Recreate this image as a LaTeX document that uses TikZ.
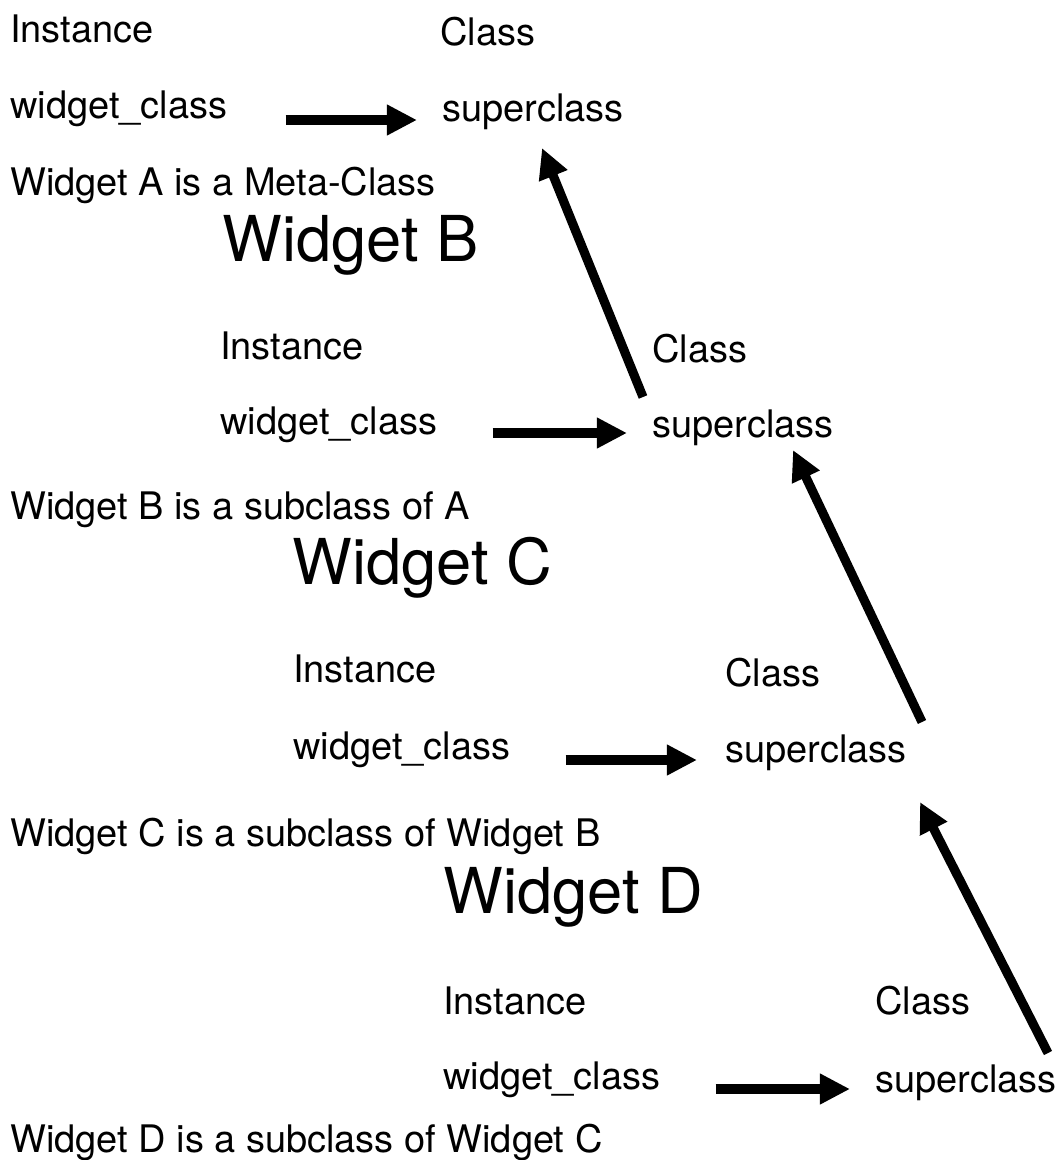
\documentclass[tikz,border=0pt]{standalone}
\usepackage{fontspec}
\setmainfont{TeX Gyre Heros}
\usetikzlibrary{calc}
\usetikzlibrary{arrows.meta}

\begin{document}
\begin{tikzpicture}[x=0.025cm,y=-0.025cm,
    txt/.style={anchor=base west, inner sep=0pt, font=\fontsize{27}{31}\selectfont},
    big/.style={anchor=base west, inner sep=0pt, font=\fontsize{45}{51}\selectfont},
    link/.style={line width=6.5pt, -{Triangle[length=0.75cm,width=0.72cm]}}]
            \useasboundingbox (0,0) rectangle (1060,1160);

            % Widget A
            \node[txt] (instA) at (10,42) {Instance};
            \node[txt] (clsA) at (440,45) {Class};
            \node[txt] (wcA) at (10,118) {widget\_class};
            \node[txt] (scA) at (442,121) {superclass};
            \node[txt] (capA) at (10,195) {Widget A is a Meta-Class};

            % Widget B
            \node[big] (titleB) at (222,261) {Widget B};
            \node[txt] (instB) at (220,359) {Instance};
            \node[txt] (clsB) at (652,362) {Class};
            \node[txt] (wcB) at (220,434) {widget\_class};
            \node[txt] (scB) at (652,437) {superclass};
            \node[txt] (capB) at (10,519) {Widget B is a subclass of A};

            % Widget C
            \node[big] (titleC) at (292,584) {Widget C};
            \node[txt] (instC) at (293,682) {Instance};
            \node[txt] (clsC) at (725,686) {Class};
            \node[txt] (wcC) at (293,759) {widget\_class};
            \node[txt] (scC) at (725,762) {superclass};
            \node[txt] (capC) at (10,846) {Widget C is a subclass of Widget B};

            % Widget D
            \node[big] (titleD) at (443,913) {Widget D};
            \node[txt] (instD) at (443,1014) {Instance};
            \node[txt] (clsD) at (875,1014) {Class};
            \node[txt] (wcD) at (443,1089) {widget\_class};
            \node[txt] (scD) at (875,1092) {superclass};
            \node[txt] (capD) at (10,1152) {Widget D is a subclass of Widget C};

            % widget_class -> superclass
            \draw[link] ($(wcA.base east)+(58,2)$) -- ($(scA.base west)+(-25,-1)$);
            \draw[link] ($(wcB.base east)+(55,-1)$) -- ($(scB.base west)+(-25,-4)$);
            \draw[link] ($(wcC.base east)+(55,1)$) -- ($(scC.base west)+(-28,-2)$);
            \draw[link] ($(wcD.base east)+(55,0)$) -- ($(scD.base west)+(-25,-3)$);

            % superclass chain
            \draw[link] ($(scB.base west)+(-9,-40)$) -- ($(scA.base west)+(100,27)$);
            \draw[link] ($(scC.base west)+(197,-40)$) -- ($(scB.base west)+(141,13)$);
            \draw[link] ($(scD.base west)+(173,-39)$) -- ($(scC.base west)+(195,40)$);
\end{tikzpicture}
\end{document}
